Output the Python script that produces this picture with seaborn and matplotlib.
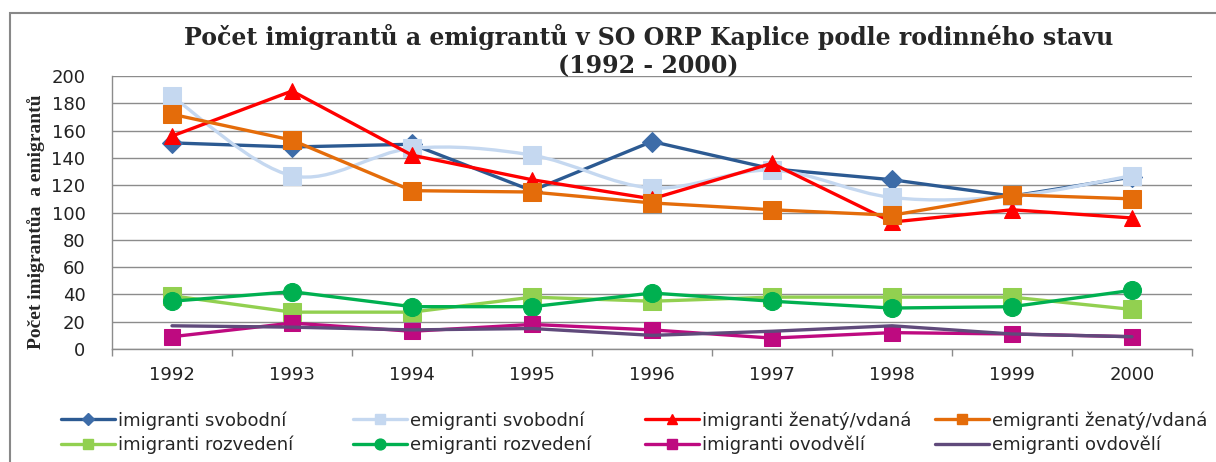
import numpy as np
import pandas as pd
import matplotlib
matplotlib.use("Agg")
import matplotlib.pyplot as plt
import seaborn as sns
from matplotlib.path import Path
from matplotlib.patches import PathPatch, Rectangle
from matplotlib.lines import Line2D

years = [1992, 1993, 1994, 1995, 1996, 1997, 1998, 1999, 2000]

imig_svobodni = [151, 148, 150, 116, 152, 132, 124, 112, 126]
emig_svobodni = [185, 127, 147, 142, 118, 131, 111, 112, 127]
imig_zenaty = [156, 189, 142, 124, 110, 136, 93, 102, 96]
emig_zenaty = [172, 153, 116, 115, 107, 102, 98, 113, 110]
imig_rozvedeni = [39, 27, 27, 38, 35, 38, 38, 38, 29]
emig_rozvedeni = [35, 42, 31, 31, 41, 35, 30, 31, 43]
imig_ovdoveli = [9, 19, 13, 18, 14, 8, 12, 11, 9]
emig_ovdoveli = [17, 16, 14, 15, 10, 13, 17, 11, 9]

names = ["imigranti svobodní", "emigranti svobodní", "imigranti ženatý/vdaná",
         "emigranti ženatý/vdaná", "imigranti rozvedení", "emigranti rozvedení",
         "imigranti ovodvělí", "emigranti ovdovělí"]
series = [imig_svobodni, emig_svobodni, imig_zenaty, emig_zenaty,
          imig_rozvedeni, emig_rozvedeni, imig_ovdoveli, emig_ovdoveli]

# line colour, marker colour, marker, marker size
styles = [
    ("#2C5A92", "#3D6CA8", "D", 10),
    ("#C5D8F0", "#C5D8F0", "s", 13),
    ("#FF0000", "#FF0000", "^", 12),
    ("#E46C0A", "#E46C0A", "s", 13),
    ("#92D050", "#92D050", "s", 13),
    ("#00B050", "#00B050", "o", 13),
    ("#BE0A80", "#BE0A80", "s", 12),
    ("#604A7B", "#604A7B", None, 0),
]

sns.set_theme(style="white")
plt.rcParams['font.family'] = ['DejaVu Sans']

W, H = 1216, 462
fig = plt.figure(figsize=(W / 100, H / 100), dpi=100)
ax = fig.add_axes([112 / W, 1 - 349 / H, (1192 - 112) / W, (349 - 76) / H])

# chart border
fig.patches.append(Rectangle((10 / W, -0.1), 1.2, 1 - 13 / H + 0.1,
                             transform=fig.transFigure, fill=False,
                             edgecolor="#888888", linewidth=1.5))


def smooth_path(xs, ys):
    # Catmull-Rom style bezier through the points (like Excel smoothed line)
    pts = np.column_stack([xs, ys]).astype(float)
    p = np.vstack([pts[0], pts, pts[-1]])
    verts = [pts[0]]
    codes = [Path.MOVETO]
    for i in range(1, len(p) - 2):
        c1 = p[i] + (p[i + 1] - p[i - 1]) / 6
        c2 = p[i + 1] - (p[i + 2] - p[i]) / 6
        verts += [c1, c2, p[i + 1]]
        codes += [Path.CURVE4] * 3
    return Path(verts, codes)


handles = []
for i, (name, vals) in enumerate(zip(names, series)):
    lc, mc, mk, ms = styles[i]
    df = pd.DataFrame({"rok": years, "pocet": vals})
    z = 3 + i
    if i == 1:
        ax.add_patch(PathPatch(smooth_path(years, vals), facecolor="none",
                               edgecolor=lc, linewidth=2.4, zorder=z))
        sns.lineplot(data=df, x="rok", y="pocet", ax=ax, linestyle="",
                     marker=mk, markersize=ms, color=mc,
                     markeredgecolor=mc, zorder=z)
    else:
        sns.lineplot(data=df, x="rok", y="pocet", ax=ax, color=lc,
                     linewidth=2.4, marker=mk, markersize=ms,
                     markerfacecolor=mc, markeredgecolor=mc, zorder=z)
    handles.append(Line2D([], [], color=lc, linewidth=2.4, marker=mk,
                          markersize=ms * 0.6 if mk else 0,
                          markerfacecolor=mc, markeredgecolor=mc))

ax.set_xlim(1991.5, 2000.5)
ax.set_ylim(0, 200)
ax.set_yticks(range(0, 201, 20))
ax.set_xticks(years)
ax.set_xticks(np.arange(1991.5, 2000.6, 1), minor=True)
ax.grid(axis="y", color="#8C8C8C", linewidth=1)
ax.set_axisbelow(True)
for s in ["top", "right"]:
    ax.spines[s].set_visible(False)
for s in ["bottom", "left"]:
    ax.spines[s].set_color("#8C8C8C")
    ax.spines[s].set_linewidth(1)
ax.tick_params(axis="x", which="major", length=0, labelsize=13, pad=12, colors="#222222")
ax.tick_params(axis="x", which="minor", bottom=True, length=5, width=1, color="#8C8C8C")
ax.tick_params(axis="y", length=7, width=1, color="#8C8C8C", labelsize=13, pad=12, colors="#222222")
for t in ax.get_yticklabels() + ax.get_xticklabels():
    t.set_color("#222222")

ax.set_xlabel("")
ax.set_ylabel("Počet imigrantůa  a emigrantů", fontsize=14, fontweight="bold",
              family="Liberation Serif")
ax.yaxis.set_label_coords(-0.062, 0.465)

fig.text(0.533, 1 - 37 / H, "Počet imigrantů a emigrantů v SO ORP Kaplice podle rodinného stavu",
         ha="center", va="center", fontsize=17, fontweight="bold", family="DejaVu Serif")
fig.text(0.533, 1 - 66 / H, "(1992 - 2000)",
         ha="center", va="center", fontsize=17, fontweight="bold", family="DejaVu Serif")

# legend: four columns placed like the original
col_x = [61, 353, 645, 935]
for c in range(4):
    idx = [c, c + 4]
    leg = fig.legend([handles[k] for k in idx], [names[k] for k in idx],
                     loc="upper left", bbox_to_anchor=(col_x[c] / W, 1 - 411 / H),
                     ncol=1, frameon=False, fontsize=13, handlelength=3.0,
                     handletextpad=0.15, labelspacing=0.35, borderaxespad=0,
                     borderpad=0)

fig.savefig("out.png", dpi=100)
